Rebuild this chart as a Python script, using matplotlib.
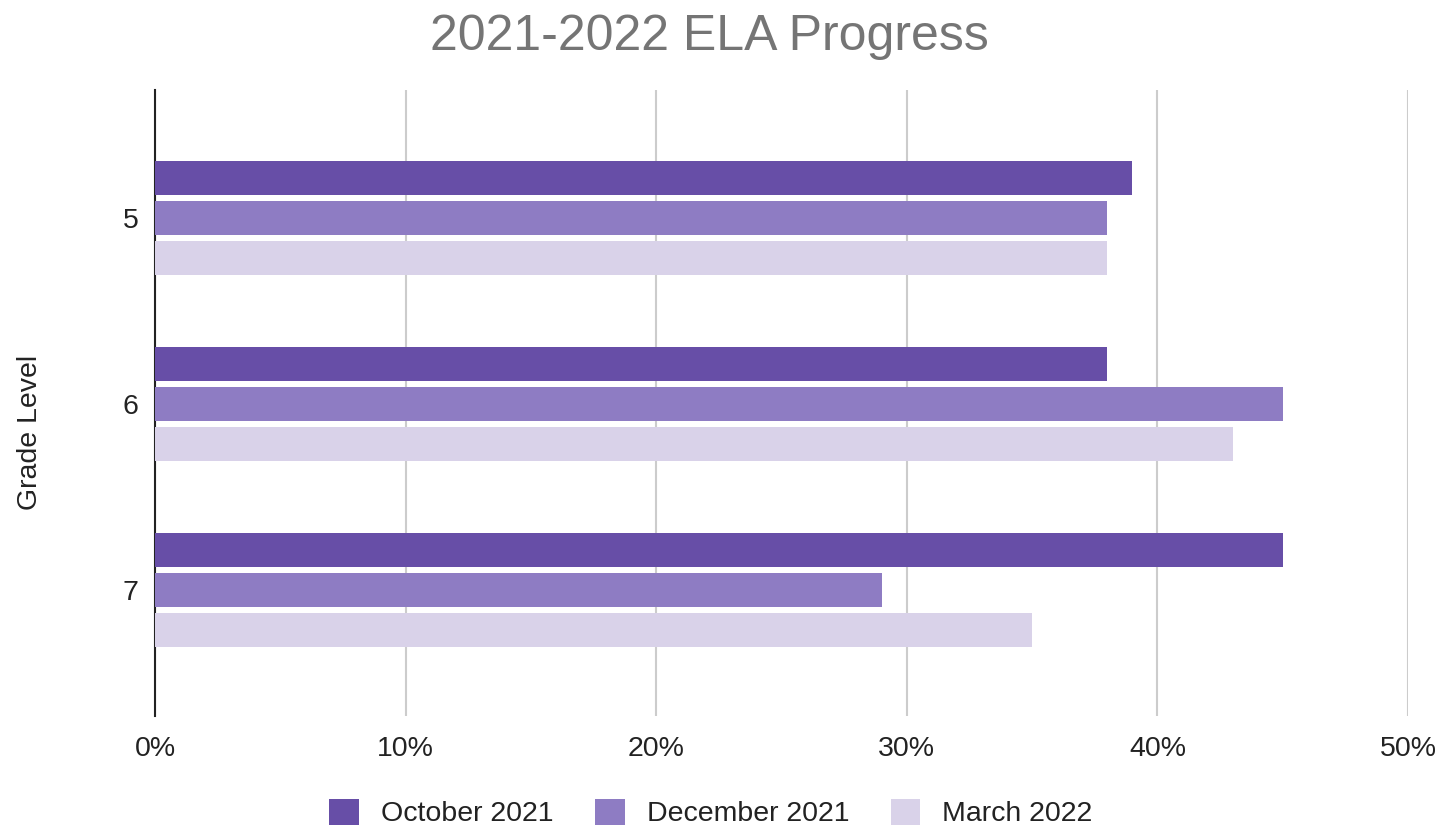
import matplotlib
matplotlib.use("Agg")
import matplotlib.pyplot as plt
import numpy as np
from matplotlib.patches import Patch

plt.rcParams['font.family'] = ['Liberation Sans', 'DejaVu Sans']

grades = ["5", "6", "7"]
series_names = ["October 2021", "December 2021", "March 2022"]
october = [39, 38, 45]
december = [38, 45, 29]
march = [38, 43, 35]
colors = ["#674ea7", "#8e7cc3", "#d9d2e9"]
xticks = [0, 10, 20, 30, 40, 50]

fig = plt.figure(figsize=(14.45, 8.26), dpi=100)
ax = fig.add_axes([155/1445, 1-716/826, (1408-155)/1445, (716-90)/826])

y = np.arange(len(grades))
offsets = [-0.215, 0.0, 0.215]
for vals, off, c in zip([october, december, march], offsets, colors):
    ax.barh(y + off, vals, height=0.183, color=c, zorder=3)

ax.set_xlim(0, 50)
ax.set_ylim(2.677, -0.688)
ax.set_xticks(xticks)
ax.set_xticklabels([f"{t}%" for t in xticks])
ax.set_yticks(y)
ax.set_yticklabels(grades)
ax.tick_params(axis='x', length=0, pad=14.5, labelsize=20.5, colors='#222222')
ax.tick_params(axis='y', length=0, pad=12, labelsize=20.5, colors='#222222')
ax.grid(axis='x', color='#cccccc', linewidth=1.5, zorder=0)
ax.yaxis.grid(False)
for s in ['top', 'right', 'bottom']:
    ax.spines[s].set_visible(False)
ax.spines['left'].set_color('#222222')
ax.spines['left'].set_linewidth(1.5)
ax.spines['left'].set_zorder(2)

ax.set_ylabel("Grade Level", fontsize=20.5, color='#222222')
ax.yaxis.set_label_coords(-(155-30)/(1408-155), 1-(432-90)/626)
ax.yaxis.label.set_va('center')

fig.text(709/1445, 1-50/826, "2021-2022 ELA Progress", fontsize=36,
         color='#757575', ha='center', va='baseline')

handles = [Patch(facecolor=c, edgecolor='none') for c in colors]
fig.legend(handles, series_names, loc='center', ncol=3,
           bbox_to_anchor=(711/1445, 1-813/826), frameon=False,
           fontsize=20.5, handlelength=1.05, handleheight=1.05,
           columnspacing=1.45, handletextpad=0.77, labelcolor='#222222')

fig.savefig("out.png", dpi=100)
